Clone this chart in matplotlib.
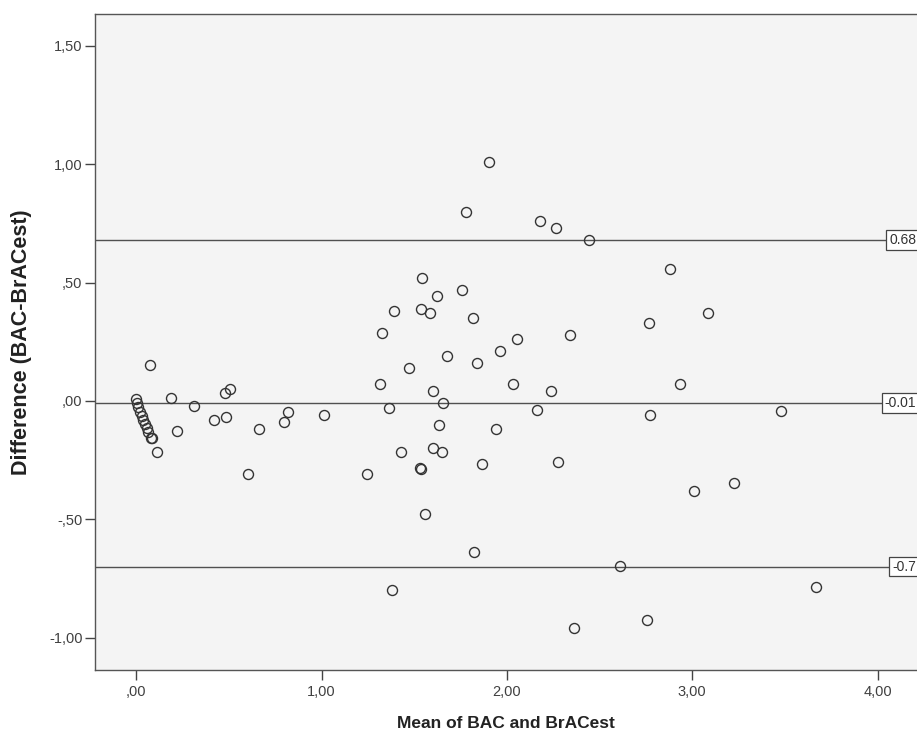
import matplotlib
matplotlib.use("Agg")
import matplotlib.pyplot as plt
import matplotlib.transforms as mtransforms

plt.rcParams['font.family'] = ['Liberation Sans', 'DejaVu Sans']

# Bland-Altman data: mean of BAC and BrACest vs. difference
mean_vals = [0.000, 0.003, 0.011, 0.020, 0.029, 0.038, 0.047, 0.056, 0.065, 0.080, 0.083,
             0.076, 0.110, 0.186, 0.218, 0.311, 0.421, 0.477, 0.506, 0.486, 0.604,
             0.660, 0.795, 0.817, 1.011, 1.247, 1.315, 1.326, 1.365, 1.382, 1.392,
             1.430, 1.472, 1.536, 1.536, 1.532, 1.542, 1.560, 1.587, 1.600, 1.600,
             1.621, 1.632, 1.651, 1.655, 1.677, 1.756, 1.781, 1.815, 1.822, 1.840,
             1.864, 1.905, 1.941, 1.964, 2.035, 2.053, 2.161, 2.180, 2.240, 2.265,
             2.275, 2.341, 2.360, 2.441, 2.610, 2.756, 2.767, 2.772, 2.880, 2.936,
             3.011, 3.085, 3.226, 3.481, 3.667]
diff_vals = [0.007, -0.010, -0.027, -0.045, -0.062, -0.079, -0.097, -0.115, -0.130, -0.155, -0.158,
             0.152, -0.217, 0.011, -0.127, -0.020, -0.079, 0.033, 0.051, -0.069, -0.308,
             -0.118, -0.089, -0.048, -0.059, -0.308, 0.072, 0.289, -0.030, -0.798, 0.380,
             -0.218, 0.141, 0.390, -0.287, -0.285, 0.521, -0.476, 0.370, 0.041, -0.197,
             0.442, -0.100, -0.218, -0.008, 0.191, 0.470, 0.800, 0.350, -0.638, 0.161,
             -0.268, 1.008, -0.118, 0.211, 0.072, 0.261, -0.038, 0.760, 0.041, 0.730,
             -0.259, 0.280, -0.958, 0.680, -0.697, -0.927, 0.330, -0.059, 0.559, 0.070,
             -0.379, 0.370, -0.348, -0.041, -0.787]

# reference lines: upper limit, mean difference, lower limit
ref_values = [0.68, -0.01, -0.70]
ref_labels = ['0.68', '-0.01', '-0.7']

x_ticks = [0, 1, 2, 3, 4]
x_ticklabels = [',00', '1,00', '2,00', '3,00', '4,00']
y_ticks = [-1.0, -0.5, 0.0, 0.5, 1.0, 1.5]
y_ticklabels = ['-1,00', '-,50', ',00', ',50', '1,00', '1,50']

W, H = 917, 738
fig = plt.figure(figsize=(W / 100, H / 100), dpi=100)
fig.patch.set_facecolor('white')
ax = fig.add_axes([95 / W, (H - 670) / H, (W - 95) / W, (670 - 13.7) / H])
ax.set_facecolor('#f4f4f4')

for v in ref_values:
    ax.axhline(v, color='#505050', lw=1.0, zorder=1)

ax.plot(mean_vals, diff_vals, linestyle='none', marker='o', markersize=7.2,
        markerfacecolor='none', markeredgecolor='#333333', markeredgewidth=1.0, zorder=3)

trans = mtransforms.blended_transform_factory(fig.transFigure, ax.transData)
for v, lab in zip(ref_values, ref_labels):
    ax.text(916 / W, v, lab, transform=trans, ha='right', va='center', fontsize=10,
            color='#333333', zorder=5, clip_on=False,
            bbox=dict(boxstyle='square,pad=0.2', facecolor='white', edgecolor='#444444', lw=0.9))

ax.set_xlim(-0.223, 4.213)
ax.set_ylim(-1.137, 1.636)
ax.set_xticks(x_ticks)
ax.set_xticklabels(x_ticklabels)
ax.set_yticks(y_ticks)
ax.set_yticklabels(y_ticklabels)
ax.tick_params(axis='both', direction='out', length=7, width=1, colors='#444444',
               labelsize=10.5, labelcolor='#404040')
ax.tick_params(axis='x', pad=4)
ax.tick_params(axis='y', pad=2)

for side in ['left', 'bottom', 'top']:
    ax.spines[side].set_color('#555555')
    ax.spines[side].set_linewidth(1.0)
ax.spines['right'].set_visible(False)

fig.text(505.5 / W, 1 - 724 / H, 'Mean of BAC and BrACest', ha='center', va='center',
         fontsize=12.5, fontweight='bold', color='#222222')
fig.text(22 / W, 1 - 342 / H, 'Difference (BAC-BrACest)', ha='center', va='center',
         rotation=90, fontsize=15.5, fontweight='bold', color='#222222')

fig.savefig('out.png', dpi=100)
